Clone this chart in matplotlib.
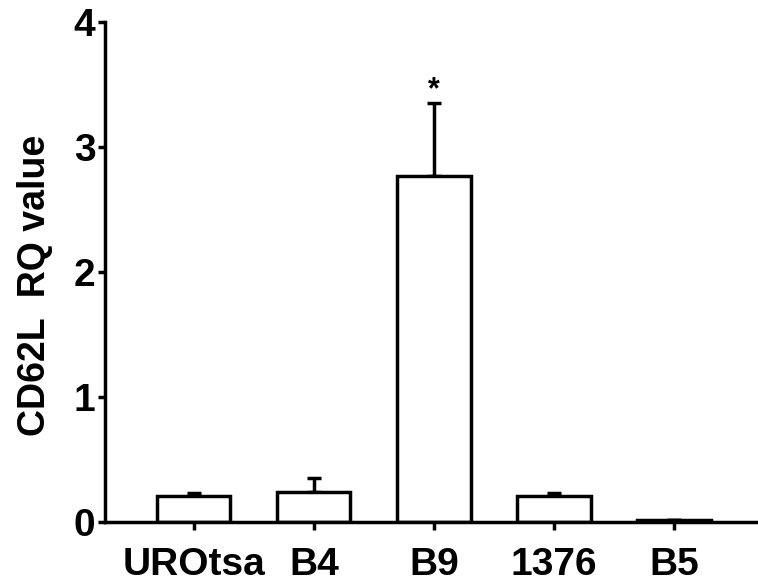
import matplotlib
matplotlib.use("Agg")
import matplotlib.pyplot as plt
import numpy as np

categories = ["UROtsa", "B4", "B9", "1376", "B5"]
values = [0.21, 0.24, 2.77, 0.21, 0.02]
errors = [0.02, 0.11, 0.58, 0.02, 0.0]
yticks = [0, 1, 2, 3, 4]
sig_marks = ["", "", "*", "", ""]

plt.rcParams['font.family'] = ['Liberation Sans', 'DejaVu Sans']
plt.rcParams['font.weight'] = 'bold'

fig = plt.figure(figsize=(7.58, 5.88), dpi=100)
ax = fig.add_axes([105/758, 66/588, (758-105)/758, 500/588])

x = np.arange(len(categories))
lw = 2.5
ax.errorbar(x, values, yerr=[np.zeros(len(errors)), errors], fmt='none',
            ecolor='black', elinewidth=lw, capsize=5, capthick=lw, zorder=1)
ax.bar(x, values, width=0.61, color='white', edgecolor='black', linewidth=lw, zorder=2)

for xi, v, e, m in zip(x, values, errors, sig_marks):
    if m:
        ax.text(xi, v + e - 0.02, m, ha='center', va='bottom', fontsize=22,
                fontweight='bold')

ax.set_xlim(-0.74, 4.7)
ax.set_ylim(0, 4)
ax.set_yticks(yticks)
ax.set_xticks(x)
ax.set_xticklabels(categories)
ax.set_ylabel("CD62L  RQ value", fontsize=27, fontweight='bold', labelpad=15)
ax.yaxis.label.set_y(0.474)

for s in ['top', 'right']:
    ax.spines[s].set_visible(False)
for s in ['left', 'bottom']:
    ax.spines[s].set_linewidth(lw)

ax.tick_params(axis='both', direction='out', width=lw, labelsize=28)
ax.tick_params(axis='y', length=5, pad=2)
ax.tick_params(axis='x', length=6, pad=12)

fig.savefig("out.png", dpi=100)
